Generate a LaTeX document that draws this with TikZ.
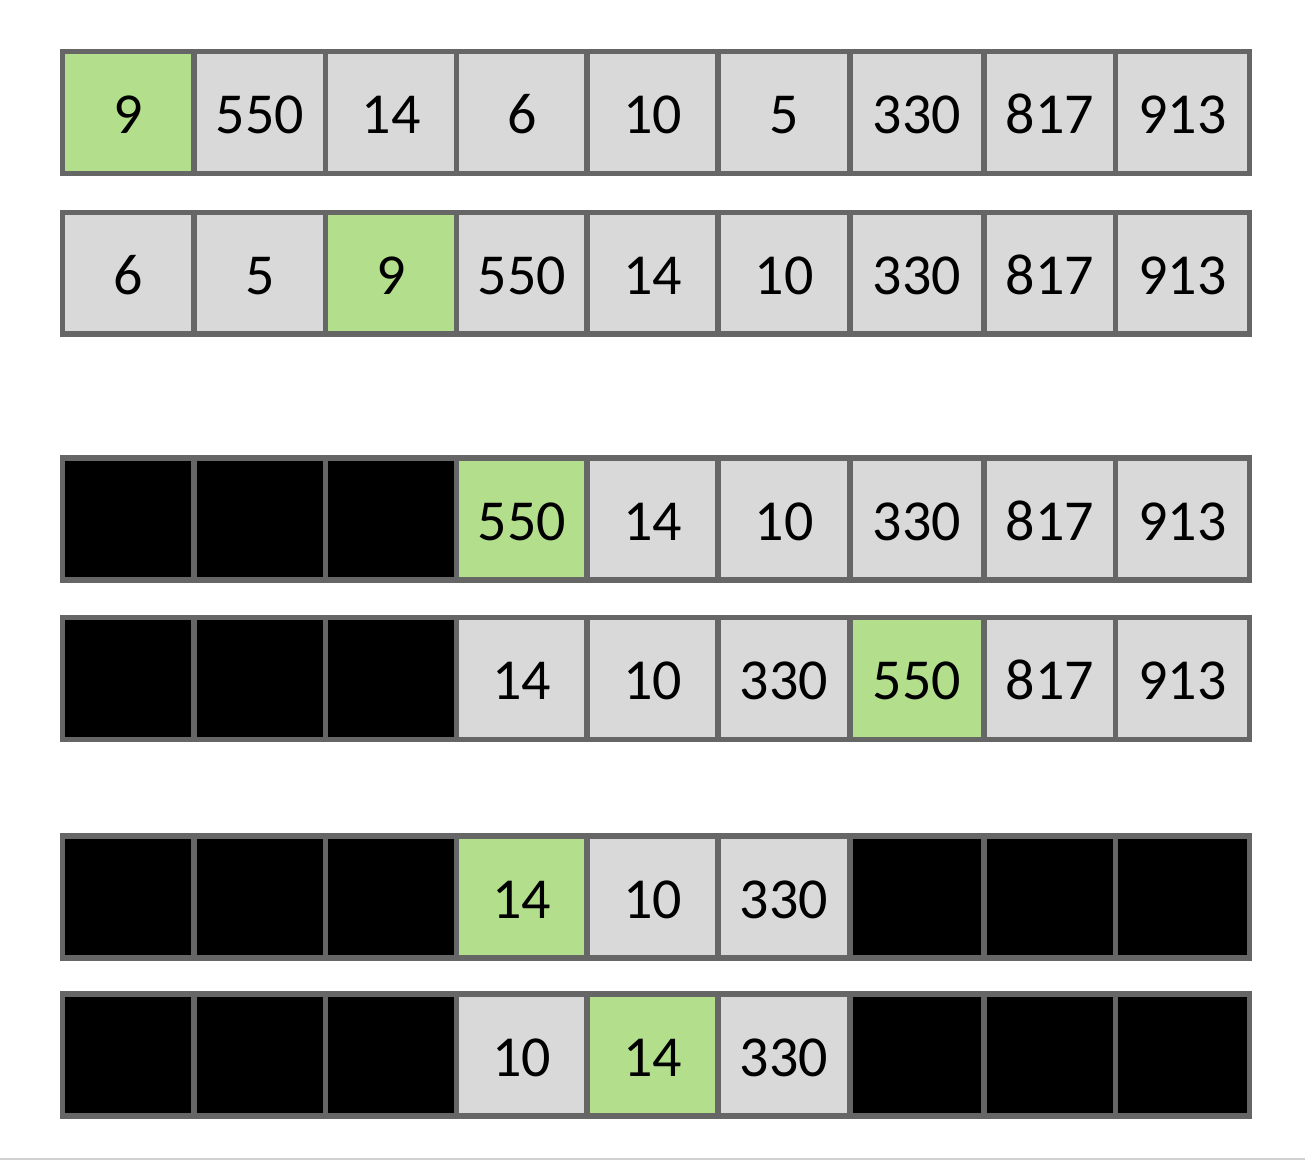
\documentclass[tikz,border=0pt]{standalone}
\usepackage{fontspec}
\setmainfont{Carlito}
\definecolor{cg}{HTML}{B3DE8B}
\definecolor{cw}{HTML}{D9D9D9}
\definecolor{ck}{HTML}{000000}
\definecolor{edge}{HTML}{666666}
\definecolor{pageline}{HTML}{D0D0D0}
\tikzset{
  cell/.style={draw=edge, line width=5.5pt, rectangle, inner sep=0pt, outer sep=0pt,
    font=\fontsize{58}{70}\selectfont, text height=42pt, text depth=0pt},
}
\begin{document}
\begin{tikzpicture}[x=1pt,y=-1pt]
\useasboundingbox (0,0) rectangle (1305,1160);
\fill[white] (0,0) rectangle (1305,1160);
\coordinate (pl) at (0,1159);
\coordinate (pr) at (1305,1159);
\draw[pageline, line width=1.3pt] (pl) -- (pr);
\def\colx{{62.5,194,325.5,456.5,587,718,850,984,1115.5,1249.5}}
\foreach \r/\t/\b/\cells in {
  1/51.5/173.5/{g/9,w/550,w/14,w/6,w/10,w/5,w/330,w/817,w/913},
  2/212.5/334/{w/6,w/5,g/9,w/550,w/14,w/10,w/330,w/817,w/913},
  3/458/580/{k/,k/,k/,g/550,w/14,w/10,w/330,w/817,w/913},
  4/617.5/739.5/{k/,k/,k/,w/14,w/10,w/330,g/550,w/817,w/913},
  5/836/958/{k/,k/,k/,g/14,w/10,w/330,k/,k/,k/},
  6/994/1116/{k/,k/,k/,w/10,g/14,w/330,k/,k/,k/}} {
  \foreach \f/\v [count=\c] in \cells {
    \pgfmathsetmacro\xl{\colx[\c-1]}
    \pgfmathsetmacro\xr{\colx[\c]}
    \pgfmathsetmacro\w{\xr-\xl}
    \pgfmathsetmacro\h{\b-\t}
    \node[cell, fill=c\f, minimum width=\w pt, minimum height=\h pt]
      (r\r-\c) at ({(\xl+\xr)/2},{(\t+\b)/2}) {\v};
  }
}
\end{tikzpicture}
\end{document}
